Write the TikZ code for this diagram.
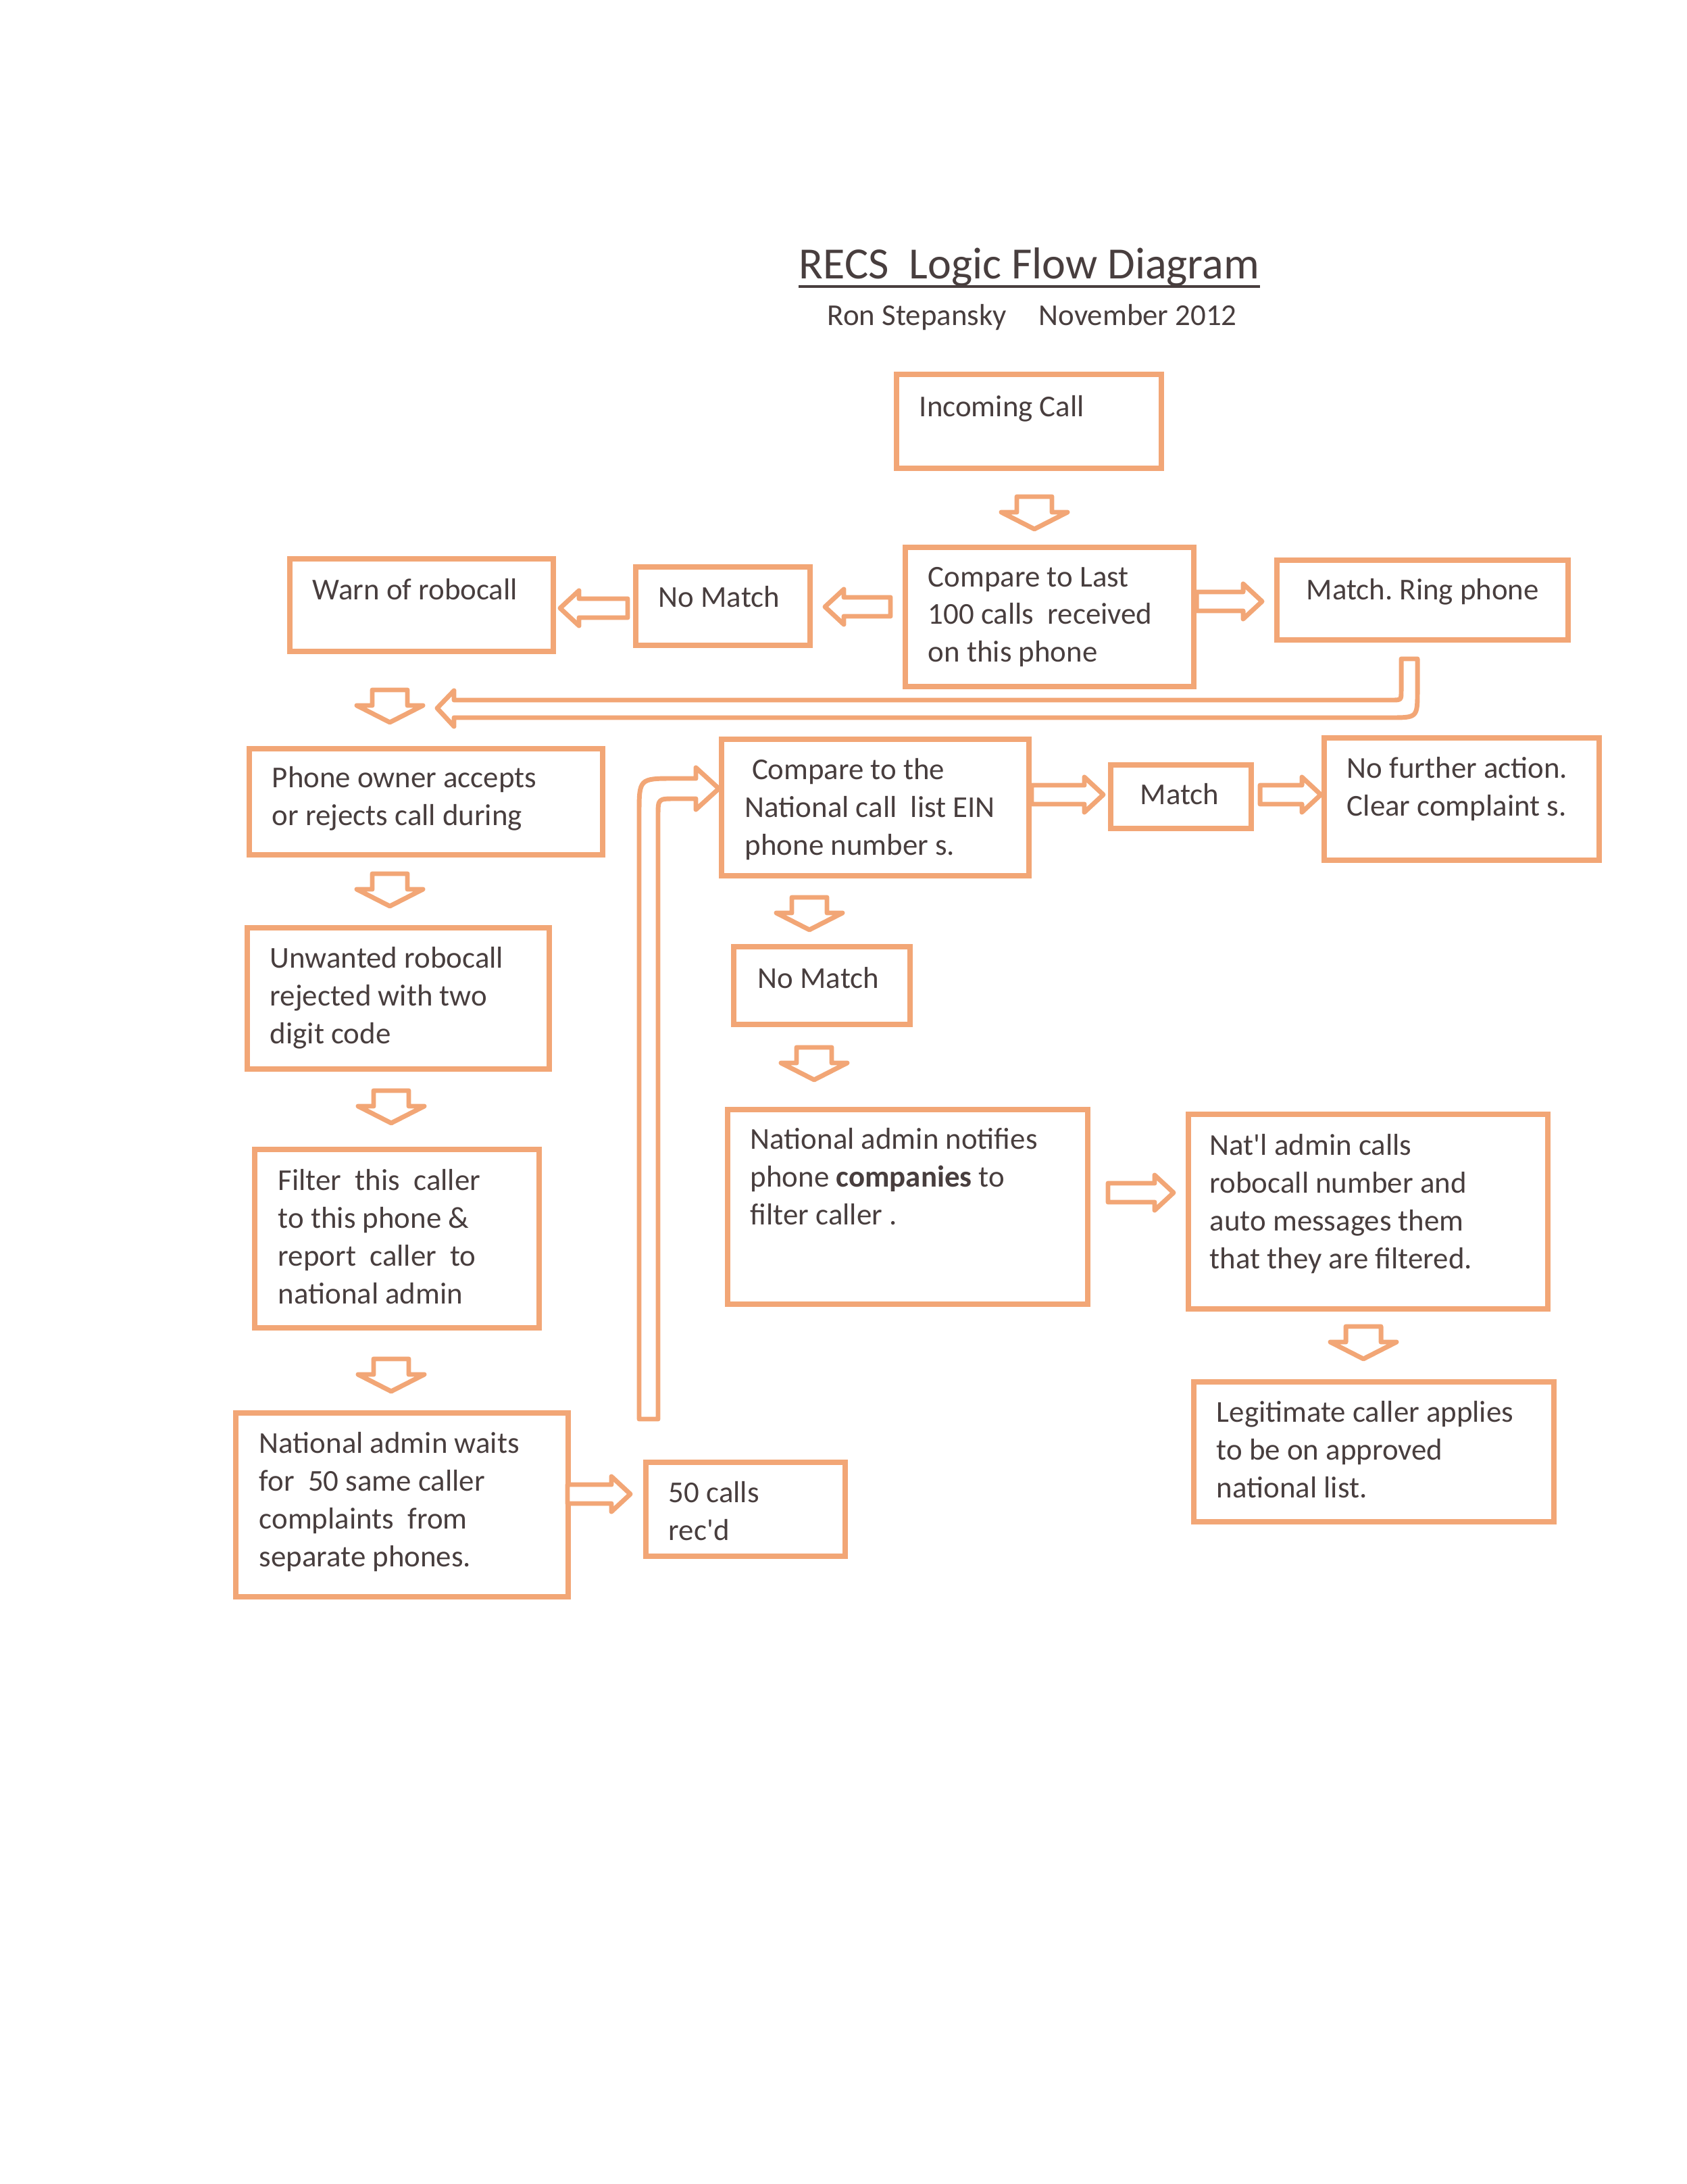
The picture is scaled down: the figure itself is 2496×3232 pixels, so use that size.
\documentclass[tikz,border=0pt]{standalone}
\usepackage{fontspec}
\setmainfont{Carlito}
\usetikzlibrary{calc}
\frenchspacing
\newcommand\sq{\XeTeXglyph\XeTeXcharglyph"27\relax}
\definecolor{orng}{RGB}{242,166,118}
\definecolor{ink}{RGB}{72,62,62}
\tikzset{
  box/.style={draw=orng, line width=2pt, rectangle, inner sep=0pt, anchor=north west},
  txt/.style={text=ink, font=\fontsize{11pt}{13.73pt}\selectfont, align=left, inner sep=0pt, anchor=base west},
  arr/.style={draw=orng, line width=1.7pt, line join=round, fill=white},
  pics/darr/.style={code={\draw[arr] (-26,-24) -- (26,-24) -- (26,-1) -- (49,-1) -- (0,24) -- (-49,-1) -- (-26,-1) -- cycle;}},
  pics/rarr/.style={code={\draw[arr] (0,-14) -- ({#1-28},-14) -- ({#1-28},-26) -- (#1,0) -- ({#1-28},26) -- ({#1-28},14) -- (0,14) -- cycle;}},
  pics/larr/.style={code={\draw[arr] (0,-14) -- ({28-#1},-14) -- ({28-#1},-26) -- (-#1,0) -- ({28-#1},26) -- ({28-#1},14) -- (0,14) -- cycle;}},
}
\newcommand\mybox[5]{\node[box, minimum width={(#4-#2-8)*0.2452pt}, minimum height={(#5-#3-8)*0.2452pt}] (#1) at (#2,#3) {};}
\begin{document}
\begin{tikzpicture}[x=0.2452pt, y=-0.2452pt]
\useasboundingbox (0,0) rectangle (2496,3232);
\fill[white] (0,0) rectangle (2496,3232);

% title
\node[anchor=base west, inner sep=0pt, text=ink, font=\fontsize{16.2pt}{19pt}\selectfont] (title) at (1182,413) {RECS\ \ Logic Flow Diagram};
\draw[ink, line width=1pt] ($(title.base west)+(0,11)$) -- ($(title.base east)+(0,11)$);
\node[txt] (auth) at (1224,482) {\makebox[76.7pt][l]{Ron Stepansky}November 2012};

% boxes (text nodes are anchored at the baseline of their last line)
\mybox{inc}{1323}{550}{1723}{697}
\node[txt] (inc-t) at (1360,617) {Incoming Call};

\mybox{cmpa}{1336}{806}{1771}{1020}
\node[txt] (cmpa-t) at (1373,980) {Compare to Last\\100 calls\ \ received\\on this phone};

\mybox{nma}{937}{835}{1203}{959}
\node[txt] (nma-t) at (974,899) {No Match};

\mybox{warn}{425}{823}{823}{968}
\node[txt] (warn-t) at (462,888) {Warn of robocall};

\mybox{ring}{1886}{825}{2325}{951}
\node[txt] (ring-t) at (1933,888) {Match. Ring phone};

\mybox{own}{365}{1104}{896}{1269}
\node[txt] (own-t) at (402,1221) {Phone owner accepts\\or rejects call during};

\mybox{unw}{362}{1369}{817}{1586}
\node[txt] (unw-t) at (399,1544) {Unwanted robocall\\rejected with two\\digit code};

\mybox{filt}{373}{1697}{802}{1969}
\node[txt] (filt-t) at (411,1929) {Filter\ \ this\ \ caller\\to this phone \&\\report\ \ caller\ \ to\\national admin};

\mybox{wait}{345}{2087}{845}{2367}
\node[txt] (wait-t) at (383,2318) {National admin waits\\for\ \ 50 same caller\\complaints\ \ from\\separate phones.};

\mybox{fifty}{952}{2160}{1255}{2307}
\node[txt] (fifty-t) at (989,2279) {50 calls\\rec\sq d};

\mybox{cmpb}{1064}{1090}{1527}{1300}
\node[txt] (cmpb-t) at (1102,1265) {\hspace{2.5pt}Compare to the\\National call\ \ list EIN\\phone number s.};

\mybox{mtch}{1640}{1128}{1856}{1230}
\node[txt] (mtch-t) at (1687,1190) {Match};

\mybox{nofur}{1956}{1088}{2371}{1277}
\node[txt] (nofur-t) at (1993,1207) {No further action.\\Clear complaint s.};

\mybox{nmb}{1082}{1397}{1351}{1520}
\node[txt] (nmb-t) at (1121,1462) {No Match};

\mybox{noti}{1073}{1638}{1614}{1934}
\node[txt] (noti-t) at (1110,1812) {National admin notifies\\phone \textbf{companies} to\\filter caller .};

\mybox{natl}{1755}{1645}{2295}{1941}
\node[txt] (natl-t) at (1790,1877) {Nat\sq l admin calls\\robocall number and\\auto messages them\\that they are filtered.};

\mybox{legit}{1763}{2041}{2304}{2256}
\node[txt] (legit-t) at (1800,2216) {Legitimate caller applies\\to be on approved\\national list.};

% down block arrows
\pic at (1531,759) {darr};
\pic at (577,1045) {darr};
\pic at (577,1317) {darr};
\pic at (579,1638) {darr};
\pic at (579,2035) {darr};
\pic at (1198,1352) {darr};
\pic at (1205,1574) {darr};
\pic at (2018,1987) {darr};

% horizontal block arrows
\pic at (1771,890) {rarr=97};
\pic at (1318,898) {larr=97};
\pic at (929,900) {larr=100};
\pic at (1527,1176) {rarr=106};
\pic at (1865,1176) {rarr=90};
\pic at (1640,1765) {rarr=97};
\pic at (840,2211) {rarr=93};

% return arrow from Match. Ring phone
\draw[arr] (2074,975) -- (2098,975) -- (2098,1022) .. controls (2098,1062) .. (2058,1062) -- (672,1062) -- (672,1075) -- (647,1048) -- (672,1022) -- (672,1036) -- (2060,1036) .. controls (2074,1036) .. (2074,1022) -- cycle;

% long loop arrow up to national list comparison
\draw[arr] (946,2100) -- (974,2100) -- (974,1207) .. controls (974,1182) .. (999,1182) -- (1030,1182) -- (1030,1198) -- (1064,1167) -- (1030,1136) -- (1030,1152) -- (998,1152) .. controls (946,1152) .. (946,1204) -- cycle;
\end{tikzpicture}
\end{document}
